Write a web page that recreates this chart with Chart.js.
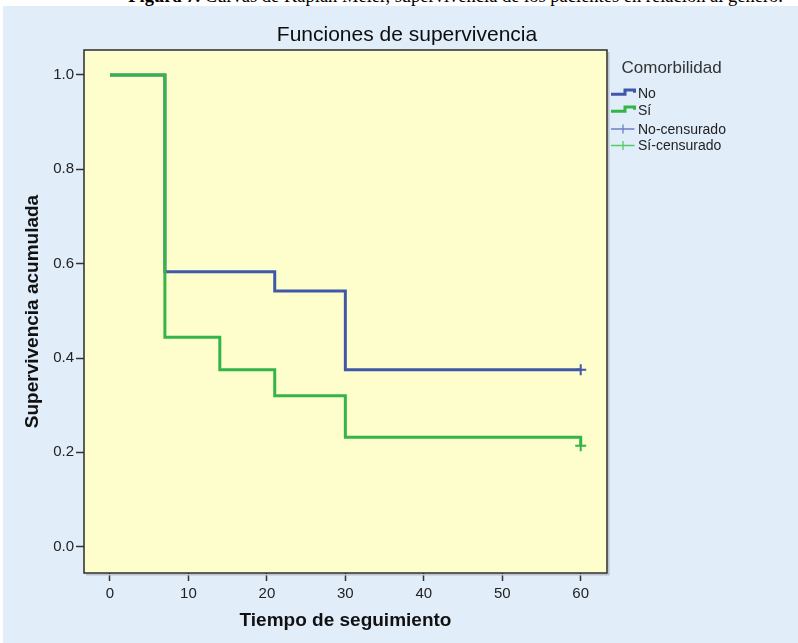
<!DOCTYPE html>
<html><head><meta charset="utf-8">
<script src="https://cdn.jsdelivr.net/npm/chart.js@4"></script>
<style>
html,body{margin:0;padding:0;background:#fff;width:798px;height:643px;overflow:hidden;position:relative}
#cap{position:absolute;right:15px;top:-14px;font:18.5px "Liberation Serif",serif;line-height:20px;white-space:nowrap;color:#000}
#panel{position:absolute;left:3px;top:6px;width:795px;height:637px;background:#e2edfa}
#wrap{position:absolute;left:0;top:0;width:798px;height:643px}
</style></head><body>
<div id="cap"><b>Figura 7.</b> Curvas de Kaplan Meier, supervivencia de los pacientes en relación al género.</div>
<div id="panel"></div>
<div id="wrap"><canvas id="c" width="798" height="643"></canvas></div>
<script>
// ---- data ----
const noTimes = [0, 7, 21, 30, 60];
const noSurv  = [1.0, 0.583, 0.542, 0.375, 0.375];
const siTimes = [0, 7, 14, 21, 30, 60];
const siSurv  = [1.0, 0.444, 0.375, 0.32, 0.232, 0.214];
const noCensTimes = [60];
const noCensSurv  = [0.375];
const siCensTimes = [60];
const siCensSurv  = [0.214];
const xTicks = [0, 10, 20, 30, 40, 50, 60];
const yTicks = [0.0, 0.2, 0.4, 0.6, 0.8, 1.0];
const chartTitle = 'Funciones de supervivencia';
const xTitle = 'Tiempo de seguimiento';
const yTitle = 'Supervivencia acumulada';
const legendTitle = 'Comorbilidad';
const seriesNames = ['No', 'Sí', 'No-censurado', 'Sí-censurado'];

const BLUE = '#3f58aa', GREEN = '#33b54a';
const BLUE_L = '#6a7fc6', GREEN_L = '#55cc66';
const pts = (xs, ys) => xs.map((x, i) => ({x: x, y: ys[i]}));

const decor = {
  id: 'decor',
  beforeDraw(chart) {
    const {ctx, chartArea: a} = chart;
    ctx.save();
    ctx.fillStyle = '#fefecd';
    ctx.fillRect(a.left, a.top, a.right - a.left, a.bottom - a.top);
    ctx.restore();
  },
  afterDraw(chart) {
    const {ctx, chartArea: a} = chart;
    ctx.save();
    // shadow
    ctx.strokeStyle = '#b9c3cf';
    ctx.lineWidth = 1.5;
    ctx.beginPath();
    ctx.moveTo(a.right + 1.8, a.top + 2); ctx.lineTo(a.right + 1.8, a.bottom + 1.8); ctx.lineTo(a.left + 2, a.bottom + 1.8);
    ctx.stroke();
    // border
    ctx.strokeStyle = '#2b2b2b';
    ctx.lineWidth = 1.5;
    ctx.strokeRect(a.left, a.top, a.right - a.left, a.bottom - a.top);
    // title
    ctx.fillStyle = '#0d0d0d';
    ctx.font = '21px "Liberation Sans", Arial, sans-serif';
    ctx.textAlign = 'center';
    ctx.textBaseline = 'alphabetic';
    ctx.fillText(chartTitle, 407, 40.7);
    // legend
    ctx.textAlign = 'left';
    ctx.fillStyle = '#333';
    ctx.font = '17px "Liberation Sans", Arial, sans-serif';
    ctx.fillText(legendTitle, 621.5, 73.3);
    ctx.font = '14px "Liberation Sans", Arial, sans-serif';
    const bases = [98.3, 115.3, 133.5, 150];
    const cols = [BLUE, GREEN, BLUE_L, GREEN_L];
    bases.forEach((b, i) => {
      ctx.strokeStyle = cols[i];
      if (i < 2) {
        ctx.lineWidth = 3;
        ctx.beginPath();
        ctx.moveTo(611, b - 4); ctx.lineTo(625, b - 4); ctx.lineTo(625, b - 8.3);
        ctx.lineTo(634.5, b - 8.3); ctx.lineTo(634.5, b - 5.5);
        ctx.stroke();
      } else {
        ctx.lineWidth = 1.3;
        ctx.beginPath();
        ctx.moveTo(611, b - 4.5); ctx.lineTo(634.5, b - 4.5);
        ctx.moveTo(623, b - 9); ctx.lineTo(623, b);
        ctx.stroke();
      }
      ctx.fillStyle = '#222';
      ctx.fillText(seriesNames[i], 638, b);
    });
    ctx.restore();
  }
};

new Chart(document.getElementById('c'), {
  type: 'line',
  data: {
    datasets: [
      {label: seriesNames[0], order: 4, data: pts(noTimes, noSurv), borderColor: BLUE, borderWidth: 3, stepped: 'before', pointRadius: 0, fill: false},
      {label: seriesNames[1], order: 3, data: pts(siTimes, siSurv), borderColor: GREEN, borderWidth: 3, stepped: 'before', pointRadius: 0, fill: false},
      {label: seriesNames[2], order: 2, data: pts(noCensTimes, noCensSurv), showLine: false, pointStyle: 'cross', pointRadius: 5.5, borderColor: BLUE, borderWidth: 2},
      {label: seriesNames[3], order: 1, data: pts(siCensTimes, siCensSurv), showLine: false, pointStyle: 'cross', pointRadius: 5.5, borderColor: GREEN, borderWidth: 2}
    ]
  },
  options: {
    responsive: false,
    animation: false,
    devicePixelRatio: 1,
    events: [],
    layout: {padding: {left: 0, top: 50, right: 191, bottom: 0}},
    plugins: {legend: {display: false}, title: {display: false}, tooltip: {enabled: false}},
    scales: {
      x: {
        type: 'linear', min: -3.31, max: 63.35,
        afterBuildTicks: s => { s.ticks = xTicks.map(v => ({value: v})); },
        afterFit: s => { s.height = 70; },
        border: {display: false},
        grid: {drawOnChartArea: false, drawTicks: true, tickLength: 8, tickColor: '#333', tickWidth: 1.5, color: '#333'},
        ticks: {autoSkip: false, maxRotation: 0, padding: 4, color: '#222', font: {family: '"Liberation Sans", Arial, sans-serif', size: 15}, callback: v => String(v)},
        title: {display: true, text: xTitle, color: '#111', font: {family: '"Liberation Sans", Arial, sans-serif', size: 19, weight: 'bold'}, padding: {top: 0, bottom: 10.6}}
      },
      y: {
        type: 'linear', min: -0.0558, max: 1.053,
        afterBuildTicks: s => { s.ticks = yTicks.map(v => ({value: v})); },
        afterFit: s => { s.width = 84; },
        border: {display: false},
        grid: {drawOnChartArea: false, drawTicks: true, tickLength: 8, tickColor: '#333', tickWidth: 1.5, color: '#333'},
        ticks: {autoSkip: false, padding: 2, color: '#222', font: {family: '"Liberation Sans", Arial, sans-serif', size: 15}, callback: v => Number(v).toFixed(1)},
        title: {display: true, text: yTitle, color: '#111', font: {family: '"Liberation Sans", Arial, sans-serif', size: 19, weight: 'bold'}, padding: {top: 21.6, bottom: 0}}
      }
    }
  },
  plugins: [decor]
});
</script>
</body></html>
